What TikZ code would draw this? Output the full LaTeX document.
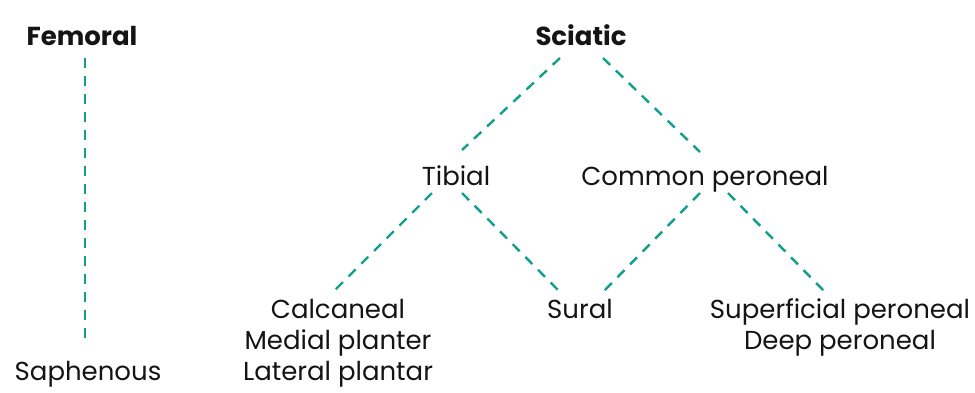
\documentclass[tikz,border=0pt]{standalone}
\usepackage{fontspec}
\setmainfont{Poppins}
\usepackage{tikz}
\usetikzlibrary{positioning}
\definecolor{NerveTeal}{RGB}{18,160,140}
\definecolor{NerveText}{RGB}{20,20,20}

\begin{document}
\begin{tikzpicture}[
x=1pt,y=-1pt,
nerve/.style={
inner sep=0pt,
anchor=base,
align=center,
text=NerveText,
font=\fontsize{26}{31}\selectfont
},
root/.style={
nerve,
font=\fontsize{26}{31}\selectfont\bfseries
},
link/.style={
draw=NerveTeal,
line width=2.4pt,
dash pattern=on 10pt off 8pt
}
]
\useasboundingbox (0,0) rectangle (975,392);

\node[root] (femoral) at (82,45) {Femoral};
\node[root] (sciatic) at (581,45) {Sciatic};
\node[nerve] (tibial) at (456,185) {Tibial};
\node[nerve] (common) at (705,185) {Common peroneal};
% base of a multi-line node is its last line
\node[nerve] (foot) at (338,380) {Calcaneal\\Medial planter\\Lateral plantar};
\node[nerve] (sural) at (580,318) {Sural};
\node[nerve] (superficial) at (840,349) {Superficial peroneal\\Deep peroneal};
\node[nerve] (saphenous) at (88,380) {Saphenous};

\draw[link] ([shift={(3,13)}]femoral.base) -- ([shift={(-3,-40)}]saphenous.base);
\draw[link] ([shift={(-21,13)}]sciatic.base) -- ([shift={(6,-35)}]tibial.base);
\draw[link] ([shift={(22,13)}]sciatic.base) -- ([shift={(-5,-33)}]common.base);
\draw[link] ([shift={(-24,8)}]tibial.base) -- ([shift={(-3,-90)}]foot.base);
\draw[link] ([shift={(6,8)}]tibial.base) -- ([shift={(-20,-26)}]sural.base);
\draw[link] ([shift={(-5,8)}]common.base) -- ([shift={(23,-26)}]sural.base);
\draw[link] ([shift={(23,8)}]common.base) -- ([shift={(-15,-57)}]superficial.base);

\end{tikzpicture}
\end{document}
